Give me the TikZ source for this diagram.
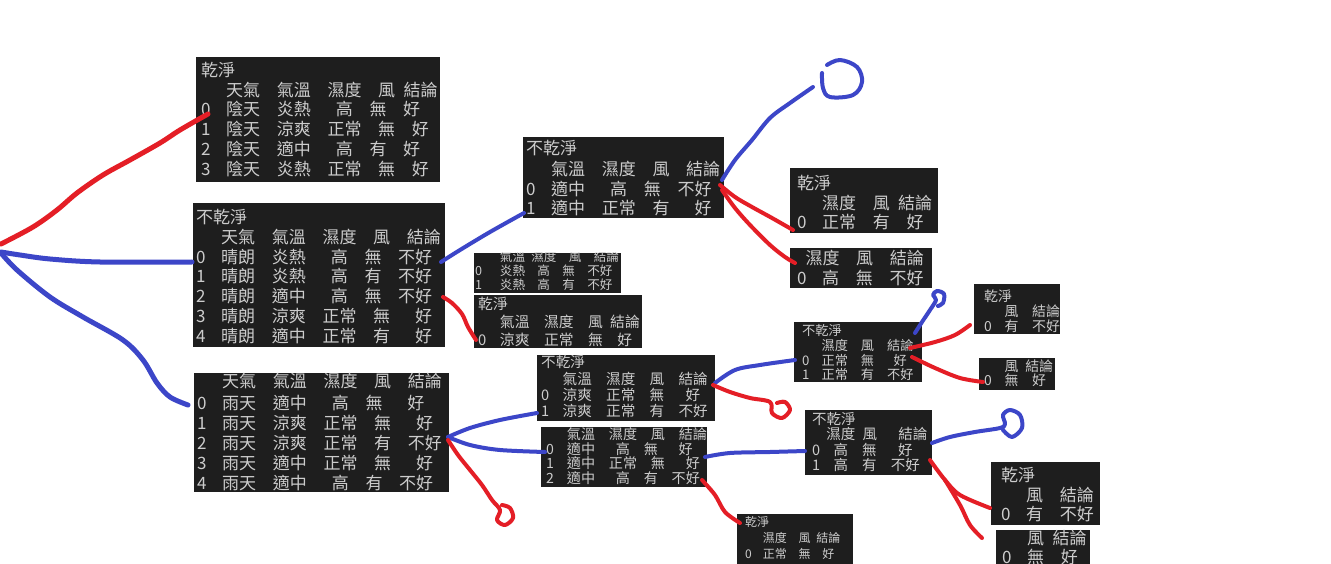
\documentclass[tikz,border=0pt]{standalone}
\usepackage{fontspec}
\setmainfont{Noto Sans CJK TC}
\definecolor{boxbg}{HTML}{1E1E1E}
\definecolor{boxtx}{HTML}{CCCCCC}
\definecolor{penred}{HTML}{E41E26}
\definecolor{penblue}{HTML}{3C46C8}
\newcommand\dg[1]{\makebox[0.49em][l]{#1}}
\tikzset{
  panel/.style={fill=boxbg, draw=none, inner sep=0pt, outer sep=0pt, anchor=north west},
  tx/.style={text=boxtx, inner sep=0pt, anchor=base west},
  fs/.style={font=\fontsize{#1}{#1}\selectfont},
  redpen/.style={draw=penred, line width=5pt, line cap=round, line join=round},
  bluepen/.style={draw=penblue, line width=5pt, line cap=round, line join=round},
}
\begin{document}
\begin{tikzpicture}[x=1pt,y=-1pt]
\def~{\hspace*{0.49em}}
\fill[white] (0,0) rectangle (1331,564);
\useasboundingbox (0,0) rectangle (1331,564);

% ---------- panels ----------
\node[panel, minimum width=244pt, minimum height=125pt] (A) at (196,57) {};
\node[panel, minimum width=252pt, minimum height=144pt] (B) at (193,203) {};
\node[panel, minimum width=255pt, minimum height=119pt] (C) at (194,373) {};
\node[panel, minimum width=201pt, minimum height=81pt] (D) at (523,137) {};
\node[panel, minimum width=147pt, minimum height=40pt] (E) at (474,253) {};
\node[panel, minimum width=168pt, minimum height=53pt] (F) at (474,295) {};
\node[panel, minimum width=148pt, minimum height=65pt] (G) at (790,168) {};
\node[panel, minimum width=142pt, minimum height=40pt] (H) at (790,248) {};
\node[panel, minimum width=178pt, minimum height=66pt] (I) at (537,355) {};
\node[panel, minimum width=166pt, minimum height=60pt] (J) at (541,427) {};
\node[panel, minimum width=128pt, minimum height=60pt] (K) at (794,322) {};
\node[panel, minimum width=86pt, minimum height=50pt] (L) at (974,284) {};
\node[panel, minimum width=76pt, minimum height=32pt] (M) at (979,358) {};
\node[panel, minimum width=127pt, minimum height=65pt] (N) at (805,410) {};
\node[panel, minimum width=109pt, minimum height=63pt] (O) at (991,462) {};
\node[panel, minimum width=94pt, minimum height=34pt] (P) at (996,530) {};
\node[panel, minimum width=116pt, minimum height=50pt] (Q) at (737,514) {};

% ---------- texts ----------
\begin{scope}[every node/.append style={tx, fs=17}]
\node (A0) at (201,76.5) {乾淨};
\node (A1) at (201,96.5) {~~~天氣~~氣溫~~濕度~~風~結論};
\node (A2) at (201,116) {\dg0~~陰天~~炎熱~~~高~~無~~好};
\node (A3) at (201,135.5) {\dg1~~陰天~~涼爽~~正常~~無~~好};
\node (A4) at (201,155.5) {\dg2~~陰天~~適中~~~高~~有~~好};
\node (A5) at (201,175.5) {\dg3~~陰天~~炎熱~~正常~~無~~好};

\node (B0) at (196,223.5) {不乾淨};
\node (B1) at (196,243.5) {~~~天氣~~氣溫~~濕度~~風~~結論};
\node (B2) at (196,263.5) {\dg0~~晴朗~~炎熱~~~高~~無~~不好};
\node (B3) at (196,282.5) {\dg1~~晴朗~~炎熱~~~高~~有~~不好};
\node (B4) at (196,302.5) {\dg2~~晴朗~~適中~~~高~~無~~不好};
\node (B5) at (196,322.5) {\dg3~~晴朗~~涼爽~~正常~~無~~~好};
\node (B6) at (196,342.5) {\dg4~~晴朗~~適中~~正常~~有~~~好};

\node (C1) at (197,387.5) {~~~天氣~~氣溫~~濕度~~風~~結論};
\node (C2) at (197,409) {\dg0~~雨天~~適中~~~高~~無~~~好};
\node (C3) at (197,429.5) {\dg1~~雨天~~涼爽~~正常~~無~~~好};
\node (C4) at (197,449.5) {\dg2~~雨天~~涼爽~~正常~~有~~不好};
\node (C5) at (197,469.5) {\dg3~~雨天~~適中~~正常~~無~~~好};
\node (C6) at (197,489.5) {\dg4~~雨天~~適中~~~高~~有~~不好};

\node (D0) at (526,154.5) {不乾淨};
\node (D1) at (526,175.5) {~~~氣溫~~濕度~~風~~結論};
\node (D2) at (526,195.5) {\dg0~~適中~~~高~~無~~不好};
\node (D3) at (526,214.5) {\dg1~~適中~~正常~~有~~~好};

\node (G0) at (797,189.5) {乾淨};
\node (G1) at (797,209.5) {~~~濕度~~風~結論};
\node (G2) at (797,228.5) {\dg0~~正常~~有~~好};

\node (H1) at (797,264.5) {~濕度~~風~~結論};
\node (H2) at (797,284.5) {\dg0~~高~~無~~不好};

\node (O0) at (1001,481.5) {乾淨};
\node (O1) at (1001,501.5) {~~~風~~結論};
\node (O2) at (1001,520.5) {\dg0~~有~~不好};

\node (P1) at (1002,544.5) {~~~風~結論};
\node (P2) at (1002,563) {\dg0~~無~~好};
\end{scope}

\begin{scope}
\clip (E.north west) rectangle (E.south east);
\begin{scope}[every node/.append style={tx, fs=12.6}]
\node (E1) at (475,261.8) {~~~~氣溫~濕度~~風~~結論};
\node (E2) at (475,275.8) {\dg0~~~炎熱~~高~~無~~不好};
\node (E3) at (475,289.8) {\dg1~~~炎熱~~高~~有~~不好};
\end{scope}
\end{scope}

\begin{scope}[every node/.append style={tx, fs=14.8}]
\node (F0) at (478,309.6) {乾淨};
\node (F1) at (478,327.6) {~~~氣溫~~濕度~~風~結論};
\node (F2) at (478,345.1) {\dg0~~涼爽~~正常~~無~~好};
\end{scope}

\begin{scope}[every node/.append style={tx, fs=14.6}]
\node (I0) at (541,367.5) {不乾淨};
\node (I1) at (541,384) {~~~氣溫~~濕度~~風~~結論};
\node (I2) at (541,400.5) {\dg0~~涼爽~~正常~~無~~~好};
\node (I3) at (541,416.5) {\dg1~~涼爽~~正常~~有~~不好};
\end{scope}

\begin{scope}[every node/.append style={tx, fs=14.1}]
\node (J1) at (546,439.4) {~~~氣溫~~濕度~~風~~結論};
\node (J2) at (546,454.4) {\dg0~~適中~~~高~~無~~~好};
\node (J3) at (546,468.9) {\dg1~~適中~~正常~~無~~~好};
\node (J4) at (546,483.4) {\dg2~~適中~~~高~~有~~不好};
\end{scope}

\begin{scope}[every node/.append style={tx, fs=13.2}]
\node (K0) at (802,335) {不乾淨};
\node (K1) at (802,350.5) {~~~濕度~~風~~結論};
\node (K2) at (802,365) {\dg0~~正常~~無~~~好};
\node (K3) at (802,379) {\dg1~~正常~~有~~不好};
\end{scope}

\begin{scope}[every node/.append style={tx, fs=13.9}]
\node (L0) at (984,301.3) {乾淨};
\node (L1) at (984,316.8) {~~~風~~結論};
\node (L2) at (984,331.3) {\dg0~~有~~不好};
\node (M1) at (984,371.8) {~~~風~結論};
\node (M2) at (984,385.8) {\dg0~~無~~好};
\end{scope}

\begin{scope}[every node/.append style={tx, fs=14.5}]
\node (N0) at (812,424.5) {不乾淨};
\node (N1) at (812,439.5) {~~濕度~風~~~結論};
\node (N2) at (812,455.5) {\dg0~~高~~無~~~好};
\node (N3) at (812,470.5) {\dg1~~高~~有~~不好};
\end{scope}

\begin{scope}[every node/.append style={tx, fs=12}]
\node (Q0) at (745,526.6) {乾淨};
\node (Q1) at (745,542.6) {~~~濕度~~風~結論};
\node (Q2) at (745,558.6) {\dg0~~正常~~無~~好};
\end{scope}

% ---------- hand-drawn connectors ----------
\coordinate (root) at (1,248);
\draw[redpen] plot[smooth, tension=0.55] coordinates {(1,244) (33,227) (57,210) (77,193) (103,175) (130,160) (160,143) (180,130) (208,114)};
\draw[bluepen] plot[smooth, tension=0.55] coordinates {(1,252) (20,255) (50,259) (100,262) (192,262)};
\draw[bluepen] plot[smooth, tension=0.55] coordinates {(1,253) (17,270) (50,297) (83,317) (123,340) (143,360) (157,383) (170,397) (188,405)};

% from B
\draw[bluepen, line width=4pt] plot[smooth, tension=0.55] coordinates {(441,262) (460,250) (490,232) (524,213)};
\draw[redpen, line width=4pt] plot[smooth, tension=0.55] coordinates {(443,297) (452,303) (462,314) (468,327) (476,340)};

% from D
\draw[bluepen, line width=4pt] plot[smooth, tension=0.55] coordinates {(722,180) (735,160) (752,140) (770,118) (790,103) (813,87)};
\draw[bluepen, line width=4pt] plot[smooth, tension=0.6] coordinates {(822,73) (823,88) (830,97) (853,95) (862,82) (857,67) (840,60) (827,65)};
\draw[redpen, line width=4pt] plot[smooth, tension=0.55] coordinates {(720,185) (735,197) (752,207) (772,218) (793,230)};
\draw[redpen, line width=4pt] plot[smooth, tension=0.55] coordinates {(722,190) (735,208) (750,225) (770,245) (785,257) (795,263)};

% from C
\draw[bluepen, line width=4pt] plot[smooth, tension=0.55] coordinates {(448,437) (470,428) (500,420) (537,413)};
\draw[bluepen, line width=4pt] plot[smooth, tension=0.55] coordinates {(448,437) (470,445) (500,450) (545,452)};
\draw[redpen, line width=4pt] plot[smooth, tension=0.55] coordinates {(448,440) (458,455) (470,470) (482,485) (492,500) (500,510) (497,520) (505,525) (513,518) (510,508) (502,505)};

% from I
\draw[bluepen, line width=4pt] plot[smooth, tension=0.55] coordinates {(715,383) (735,370) (760,365) (795,360)};
\draw[redpen, line width=4pt] plot[smooth, tension=0.55] coordinates {(713,385) (730,392) (750,398) (770,402) (772,413) (782,418) (790,410) (785,402) (777,403)};

% from J
\draw[bluepen, line width=4pt] plot[smooth, tension=0.55] coordinates {(705,457) (730,453) (770,452) (805,451)};
\draw[redpen, line width=4pt] plot[smooth, tension=0.55] coordinates {(702,480) (715,495) (725,512) (740,523)};

% from K
\draw[bluepen, line width=4pt] plot[smooth, tension=0.55] coordinates {(915,333) (922,322) (930,310) (936,300) (933,295) (937,291) (944,294) (943,303) (938,306)};
\draw[redpen, line width=4pt] plot[smooth, tension=0.55] coordinates {(910,348) (935,342) (955,335) (970,325)};
\draw[redpen, line width=4pt] plot[smooth, tension=0.55] coordinates {(912,357) (935,368) (960,378) (983,382)};

% from N
\draw[bluepen, line width=4pt] plot[smooth, tension=0.55] coordinates {(932,443) (950,437) (975,432) (1000,428) (1005,424) (1003,415) (1010,410) (1020,415) (1022,428) (1012,437) (1003,430)};
\draw[redpen, line width=4pt] plot[smooth, tension=0.55] coordinates {(930,460) (945,480) (960,495) (990,508)};
\draw[redpen, line width=4pt] plot[smooth, tension=0.55] coordinates {(945,480) (960,505) (970,525) (982,538)};
\end{tikzpicture}
\end{document}
